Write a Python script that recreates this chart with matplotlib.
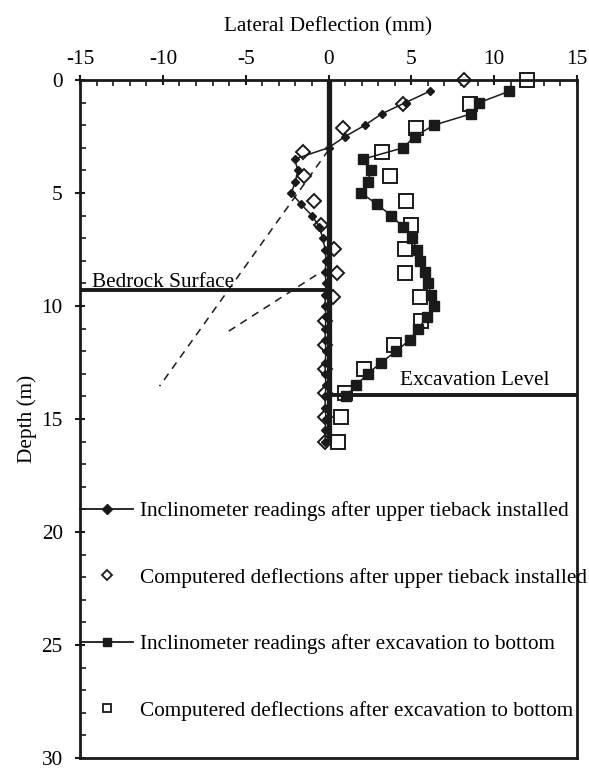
import numpy as np
import matplotlib.pyplot as plt
from matplotlib.lines import Line2D

plt.rcParams['font.family'] = ['Liberation Serif', 'DejaVu Serif']
plt.rcParams['axes.unicode_minus'] = False

# inclinometer readings after upper tieback installed (every 0.5 m)
depth_inc1 = np.arange(0.5, 16.01, 0.5)
defl_inc1 = [6.1, 4.65, 3.2, 2.2, 1.0, 0.0, -2.05, -1.85, -2.0, -2.25, -1.65, -1.0,
             -0.55, -0.35, -0.2, -0.15, -0.2, -0.15, -0.2, -0.2, -0.15, -0.2, -0.2,
             -0.15, -0.2, -0.2, -0.15, -0.2, -0.2, -0.15, -0.2, -0.2]

# computed deflections (16 nodes from 0 to 16 m)
depth_comp = np.linspace(0, 16, 16)
defl_comp1 = [8.2, 4.5, 0.9, -1.55, -1.5, -0.9, -0.45, 0.35, 0.5, 0.25,
              -0.2, -0.2, -0.2, -0.2, -0.2, -0.2]
defl_comp2 = [12.0, 8.55, 5.3, 3.24, 3.74, 4.69, 4.95, 4.59, 4.59, 5.53,
              5.59, 3.98, 2.17, 0.97, 0.77, 0.6]

# inclinometer readings after excavation to bottom
depth_inc2 = np.arange(0.5, 14.01, 0.5)
defl_inc2 = [10.9, 9.1, 8.6, 6.35, 5.2, 4.5, 2.1, 2.57, 2.37, 1.97, 2.93, 3.78,
             4.5, 5.03, 5.35, 5.5, 5.85, 6.0, 6.2, 6.34, 5.95, 5.4, 4.9, 4.08,
             3.18, 2.37, 1.67, 1.07]

# dashed lines and levels
dash1_x = [0.0, -10.2]
dash1_y = [3.1, 13.55]
dash2_x = [-0.74, -6.1]
dash2_y = [8.63, 11.15]
bedrock_depth = 9.3
excavation_depth = 13.95
wall_depth = 16.0

labels = ['Inclinometer readings after upper tieback installed',
          'Computered deflections after upper tieback installed',
          'Inclinometer readings after excavation to bottom',
          'Computered deflections after excavation to bottom']

fs = 15.3
fig = plt.figure(figsize=(5.89, 7.69), dpi=100)
ax = fig.add_axes([80/589, 1 - 758/769, 497/589, 678/769])

k = '#1a1a1a'
ax.plot([0, 0], [0, wall_depth], color=k, lw=3.8, solid_capstyle='butt', zorder=3)
ax.plot([-15, 0], [bedrock_depth, bedrock_depth], color=k, lw=2.8, zorder=3)
ax.plot([0, 15], [excavation_depth, excavation_depth], color=k, lw=2.8, zorder=3)
ax.plot(dash1_x, dash1_y, color=k, lw=1.1, ls=(0, (5, 4)))
ax.plot(dash2_x, dash2_y, color=k, lw=1.1, ls=(0, (5, 4)))

ax.plot(defl_inc1, depth_inc1, color=k, lw=1.1, marker='D', ms=4.3,
        mfc=k, mec=k, zorder=4)
ax.plot(defl_comp1, depth_comp, ls='none', marker='D', ms=7.2,
        mfc='white', mec=k, mew=1.4, zorder=2, clip_on=False)
ax.plot(defl_inc2, depth_inc2, color=k, lw=1.1, marker='s', ms=6.7,
        mfc=k, mec=k, zorder=4)
ax.plot(defl_comp2, depth_comp, ls='none', marker='s', ms=9.6,
        mfc='white', mec=k, mew=1.4, zorder=2, clip_on=False)

ax.text(-14.3, 9.15, 'Bedrock Surface', fontsize=fs, va='baseline', ha='left')
ax.text(4.3, 13.5, 'Excavation Level', fontsize=fs, va='baseline', ha='left')

handles = [Line2D([], [], color=k, lw=1.3, marker='D', ms=4.6, mfc=k, mec=k),
           Line2D([], [], ls='none', marker='D', ms=5.4, mfc='white', mec=k, mew=1.3),
           Line2D([], [], color=k, lw=1.3, marker='s', ms=6.2, mfc=k, mec=k),
           Line2D([], [], ls='none', marker='s', ms=6.4, mfc='white', mec=k, mew=1.3)]
ax.legend(handles, labels, loc='upper left', bbox_to_anchor=(0.0, 0.379),
          frameon=False, fontsize=fs, handlelength=2.5, handletextpad=0.3,
          labelspacing=2.2, borderpad=0, borderaxespad=0)

ax.set_xlim(-15, 15)
ax.set_ylim(30, 0)
ax.xaxis.tick_top()
ax.xaxis.set_label_position('top')
ax.set_xticks(np.arange(-15, 16, 5))
ax.set_xticks(np.arange(-15, 16, 1), minor=True)
ax.set_yticks(np.arange(0, 31, 5))
ax.set_yticks(np.arange(0, 31, 1), minor=True)
ax.tick_params(which='major', direction='inout', length=7, width=1.5,
               labelsize=fs, pad=4.5, color=k)
ax.tick_params(which='minor', direction='in', length=4, width=1.2, color=k)
ax.tick_params(axis='y', which='major', pad=9)
ax.set_xlabel('Lateral Deflection (mm)', fontsize=fs, labelpad=13)
ax.set_ylabel('Depth (m)', fontsize=fs, labelpad=3)
for s in ax.spines.values():
    s.set_linewidth(2)
    s.set_color(k)

fig.savefig('out.png', dpi=100)
